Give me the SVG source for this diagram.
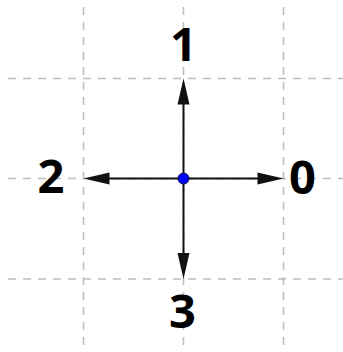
<svg xmlns="http://www.w3.org/2000/svg" width="343" height="352" viewBox="0 0 343 352">
<defs>
<style>
.grid{stroke:#bdbdbd;stroke-width:1.5;stroke-dasharray:8,7;fill:none}
.edge{stroke:#111;stroke-width:2;fill:none}
.head{fill:#111}
.lbl{font-family:"Open Sans","Liberation Sans",sans-serif;font-weight:bold;font-size:47px;fill:#000;text-anchor:middle}
</style>
</defs>
<rect width="343" height="352" fill="#fff"/>
<g id="grid">
<line class="grid" x1="83.5" y1="7" x2="83.5" y2="352"/>
<line class="grid" x1="183.5" y1="7" x2="183.5" y2="352"/>
<line class="grid" x1="283.5" y1="7" x2="283.5" y2="352"/>
<line class="grid" x1="8" y1="78.5" x2="343" y2="78.5"/>
<line class="grid" x1="8" y1="178.5" x2="343" y2="178.5"/>
<line class="grid" x1="8" y1="279" x2="343" y2="279"/>
</g>
<g id="connectors">
<line class="edge" x1="183.5" y1="178.5" x2="183.5" y2="100"/>
<polygon class="head" points="183.5,78.5 177.5,104.5 189.5,104.5"/>
<line class="edge" x1="183.5" y1="178.5" x2="105" y2="178.5"/>
<polygon class="head" points="83.5,178.5 109.5,172.5 109.5,184.5"/>
<line class="edge" x1="183.5" y1="178.5" x2="262" y2="178.5"/>
<polygon class="head" points="283.5,178.5 257.5,172.5 257.5,184.5"/>
<line class="edge" x1="183.5" y1="178.5" x2="183.5" y2="257"/>
<polygon class="head" points="183.5,279 177.5,253 189.5,253"/>
</g>
<g id="center">
<circle cx="183.5" cy="178.5" r="5.5" fill="#0000ff" stroke="#101040" stroke-width="1"/>
</g>
<g id="label-1"><text class="lbl" x="183.5" y="61">1</text></g>
<g id="label-2"><text class="lbl" x="51" y="193">2</text></g>
<g id="label-0"><text class="lbl" x="302.5" y="194">0</text></g>
<g id="label-3"><text class="lbl" x="182.5" y="328">3</text></g>
</svg>
